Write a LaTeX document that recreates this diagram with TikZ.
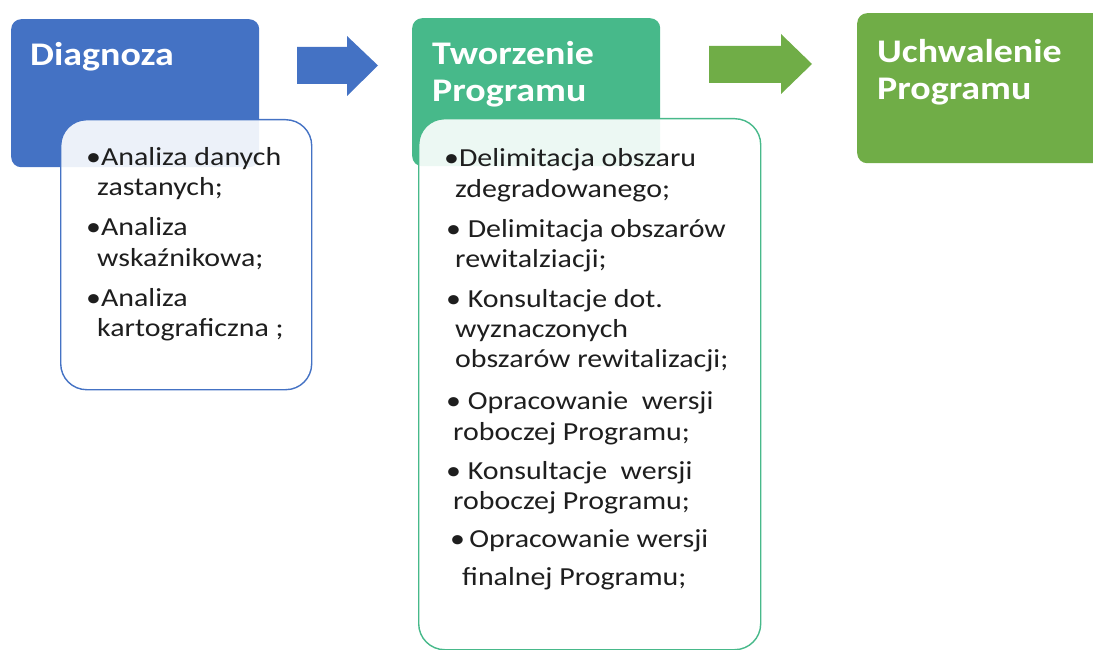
\documentclass[tikz,border=0pt]{standalone}
\usepackage{fontspec}
\setmainfont{Carlito}[FakeStretch=1.15]
\definecolor{cblue}{HTML}{4472C4}
\definecolor{cteal}{HTML}{47B98A}
\definecolor{cgreen}{HTML}{70AD47}
\definecolor{ctext}{HTML}{1E1E1E}
\tikzset{
  headbox/.style={anchor=north west, rounded corners=10pt, inner sep=0pt, draw=none},
  listbox/.style={anchor=north west, rounded corners=26pt, inner sep=0pt, fill=white, fill opacity=0.9, line width=1.4pt},
  headtext/.style={anchor=base west, inner sep=0pt, text=white, font=\fontsize{33}{38}\bfseries\selectfont},
  bodytext/.style={anchor=base west, inner sep=0pt, text=ctext, font=\fontsize{26}{30}\selectfont},
}
\begin{document}
\begin{tikzpicture}[x=1pt,y=-1pt]
\useasboundingbox (0,0) rectangle (1093,650);
\clip (0,0) rectangle (1093,650);
% heading boxes
\node[headbox, fill=cblue, minimum width=248pt, minimum height=148pt] (diag) at (11,19) {};
\node[headbox, fill=cteal, minimum width=248pt, minimum height=148pt] (tworz) at (412,18) {};
\node[headbox, fill=cgreen, minimum width=260pt, minimum height=150pt] (uchw) at (857,13) {};
% list boxes
\node[listbox, draw=cblue, minimum width=251pt, minimum height=270pt] (list1) at (60,119) {};
\node[listbox, draw=cteal, minimum width=342pt, minimum height=531pt] (list2) at (418,118) {};
% arrows
\fill[cblue] (297,47) -- (347,47) -- (347,36) -- (378,65.5) -- (347,96) -- (347,84) -- (297,84) -- cycle;
\fill[cgreen] (709,46) -- (781,46) -- (781,34) -- (812,64) -- (781,94) -- (781,83) -- (709,83) -- cycle;
% heading texts
\node[headtext] (h1) at (30,66) {Diagnoza};
\node[headtext] (h2a) at (432,65) {Tworzenie};
\node[headtext] (h2b) at (432,102) {Programu};
\node[headtext] (h3a) at (877,63) {Uchwalenie};
\node[headtext] (h3b) at (877,100) {Programu};
% list 1
\node[bodytext] (a1) at (86,166) {•Analiza danych};
\node[bodytext] (a2) at (97,196) {zastanych;};
\node[bodytext] (a3) at (86,236) {•Analiza};
\node[bodytext] (a4) at (97,266) {wskaźnikowa;};
\node[bodytext] (a5) at (86,306) {•Analiza};
\node[bodytext] (a6) at (97,336) {kartograficzna ;};
% list 2
\node[bodytext] (b1) at (444,167) {•Delimitacja obszaru};
\node[bodytext] (b2) at (455,197) {zdegradowanego;};
\node[bodytext] (b3) at (446,237) {• Delimitacja obszarów};
\node[bodytext] (b4) at (455,267) {rewitalziacji;};
\node[bodytext] (b5) at (446,307) {• Konsultacje dot.};
\node[bodytext] (b6) at (455,337) {wyznaczonych};
\node[bodytext] (b7) at (455,367) {obszarów rewitalizacji;};
\node[bodytext] (b8) at (446,409) {• Opracowanie\ \ wersji};
\node[bodytext] (b9) at (453,440) {roboczej Programu;};
\node[bodytext] (b10) at (446,479) {• Konsultacje\ \ wersji};
\node[bodytext] (b11) at (453,509) {roboczej Programu;};
\node[bodytext] (b12) at (450,547) {•\,Opracowanie\ wersji};
\node[bodytext] (b13) at (462,585) {finalnej\ Programu;};
\end{tikzpicture}
\end{document}
